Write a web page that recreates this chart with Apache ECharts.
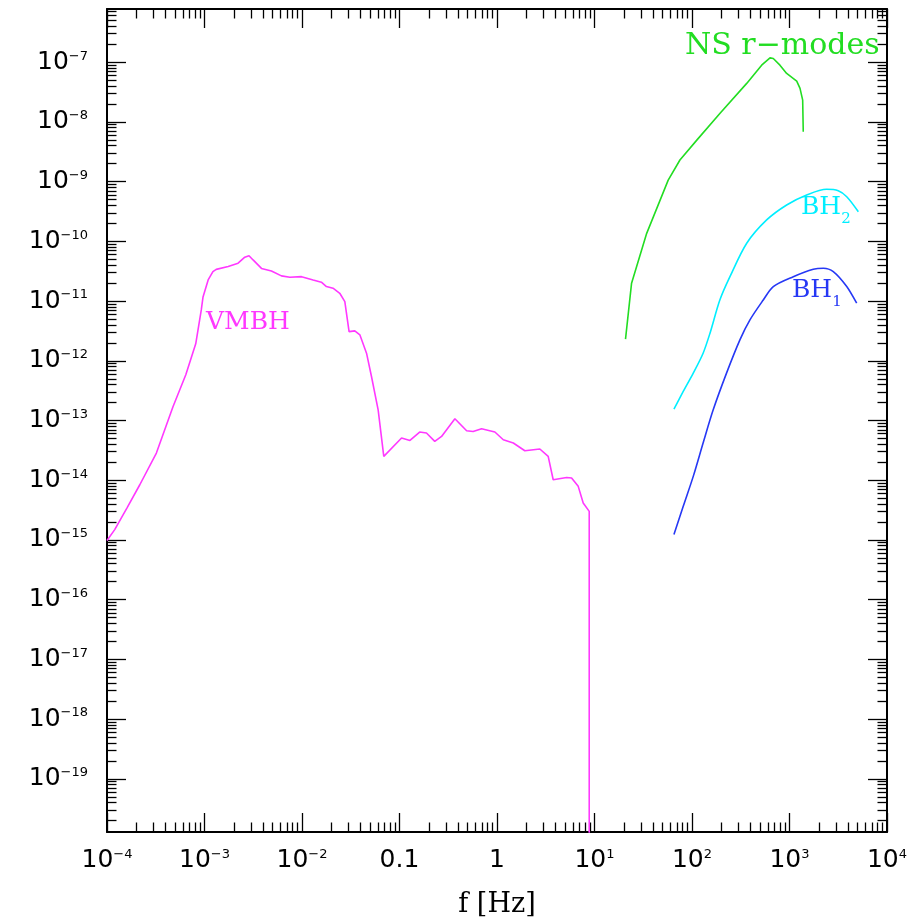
<!DOCTYPE html>
<html><head><meta charset="utf-8">
<script src="https://cdn.jsdelivr.net/npm/echarts@6/dist/echarts.min.js"></script>
<style>html,body{margin:0;padding:0;background:#fff}#c{width:920px;height:918px}</style>
</head><body><div id="c"></div><script>
// ---- data ----
const vmbhF = [1.0e-4,1.20e-4,1.61e-4,2.17e-4,3.21e-4,4.75e-4,6.43e-4,8.13e-4,9.27e-4,9.66e-4,1.09e-3,1.22e-3,1.32e-3,1.75e-3,2.21e-3,2.59e-3,2.86e-3,3.15e-3,3.84e-3,4.86e-3,6.15e-3,7.50e-3,9.89e-3,1.30e-2,1.58e-2,1.78e-2,2.08e-2,2.44e-2,2.75e-2,3.04e-2,3.48e-2,3.92e-2,4.59e-2,5.16e-2,6.04e-2,6.90e-2,0.105,0.128,0.161,0.189,0.230,0.270,0.370,0.488,0.569,0.695,0.951,1.16,1.47,1.93,2.75,3.35,3.77,5.18,5.82,6.81,7.66,8.83,8.83];
const vmbhH = [9.8e-16,1.49e-15,3.48e-15,8.4e-15,2.85e-14,1.70e-13,5.82e-13,1.92e-12,7.11e-12,1.17e-11,2.26e-11,3.11e-11,3.39e-11,3.80e-11,4.30e-11,5.42e-11,5.75e-11,4.88e-11,3.52e-11,3.19e-11,2.64e-11,2.51e-11,2.56e-11,2.26e-11,2.07e-11,1.75e-11,1.64e-11,1.35e-11,9.8e-12,3.08e-12,3.17e-12,2.72e-12,1.34e-12,5.46e-13,1.51e-13,2.51e-14,5.08e-14,4.63e-14,6.41e-14,6.17e-14,4.47e-14,5.41e-14,1.07e-13,6.73e-14,6.56e-14,7.28e-14,6.41e-14,4.76e-14,4.20e-14,3.12e-14,3.33e-14,2.51e-14,1.02e-14,1.11e-14,1.09e-14,7.89e-15,4.16e-15,3.01e-15,1e-22];

const nsF = [20.8,24.0,34.3,57.0,75.2,112,194,364,518,631,682,798,935,1186,1282,1365,1384];
const nsH = [2.30e-12,1.99e-11,1.36e-10,1.06e-9,2.30e-9,4.95e-9,1.39e-8,4.41e-8,8.91e-8,1.18e-7,1.15e-7,8.91e-8,6.47e-8,4.81e-8,3.63e-8,2.31e-8,6.82e-9];

const bh2F = [65.3,81.3,103,130,153,193,245,364,583,935,1500,2404,3162,3864,5082];
const bh2H = [1.55e-13,3.06e-13,6.21e-13,1.34e-12,2.90e-12,1.04e-11,2.56e-11,9.29e-11,2.28e-10,4.06e-10,5.97e-10,7.43e-10,7.03e-10,5.58e-10,3.13e-10];

const bh1F = [65.3,81.3,103,130,165,226,310,393,538,682,1094,1754,2223,2812,3864,4887];
const bh1H = [1.23e-15,3.65e-15,1.16e-14,4.20e-14,1.51e-13,6.21e-13,2.24e-12,4.84e-12,1.04e-11,1.75e-11,2.56e-11,3.41e-11,3.55e-11,3.11e-11,1.75e-11,9.20e-12];

// ---- ticks ----
const xTickValues = [1e-4,1e-3,1e-2,0.1,1,10,100,1000,10000];
const xTickLabels = ['10^−4','10^−3','10^−2','0.1','1','10^1','10^2','10^3','10^4'];
const yTickValues = [1e-7,1e-8,1e-9,1e-10,1e-11,1e-12,1e-13,1e-14,1e-15,1e-16,1e-17,1e-18,1e-19];
const yTickLabels = ['10^−7','10^−8','10^−9','10^−10','10^−11','10^−12','10^−13','10^−14','10^−15','10^−16','10^−17','10^−18','10^−19'];

const xMin = 1e-4, xMax = 1e4;
const yMin = Math.pow(10, -19.89), yMax = Math.pow(10, -6.11);

function minorValues(d0, d1, lo, hi) {
  const out = [];
  for (let d = d0; d <= d1; d++) for (let k = 2; k <= 9; k++) {
    const v = k * Math.pow(10, d);
    if (v > lo && v < hi) out.push(v);
  }
  return out;
}
const xMinor = minorValues(-4, 3, xMin, xMax);
const yMinor = minorValues(-20, -7, yMin, yMax);

function makeFormatter(vals, labels) {
  return function (v) {
    const lv = Math.log10(v);
    let idx = -1;
    for (let i = 0; i < vals.length; i++) if (Math.abs(Math.log10(vals[i]) - lv) < 1e-6) idx = i;
    if (idx < 0) return '';
    const s = labels[idx];
    const p = s.indexOf('^');
    return p < 0 ? s : s.slice(0, p) + '{sup|' + s.slice(p + 1) + '}';
  };
}

const C_MAG = '#ff38ff', C_GRN = '#22dd22', C_CYN = '#00eeff', C_BLU = '#2638f5';
const tickFont = 'DejaVu Sans';
const serif = 'DejaVu Serif';
const labelRich = { sup: { fontSize: 13, lineHeight: 16, verticalAlign: 'top', fontFamily: tickFont, color: '#000' } };

function axisCommon() {
  return {
    type: 'log', logBase: 10,
    splitLine: { show: false }, minorTick: { show: false }, minorSplitLine: { show: false }
  };
}
function mkX(pos, ticks, len, withLabel, withLine) {
  const a = Object.assign(axisCommon(), {
    min: xMin, max: xMax, position: pos,
    axisLine: { show: withLine, onZero: false, lineStyle: { color: '#000', width: 2 } },
    axisTick: { show: true, inside: true, length: len, customValues: ticks, lineStyle: { color: '#000', width: 1.3 } },
    axisLabel: withLabel ? {
      show: true, customValues: xTickValues, margin: 16, formatter: makeFormatter(xTickValues, xTickLabels),
      fontFamily: tickFont, fontSize: 25, lineHeight: 25, color: '#000', rich: labelRich, hideOverlap: false,
      showMinLabel: true, showMaxLabel: true
    } : { show: false }
  });
  if (withLabel) {
    a.name = 'f [Hz]'; a.nameLocation = 'middle'; a.nameGap = 59;
    a.nameTextStyle = { fontFamily: serif, fontSize: 27, color: '#000' };
  }
  return a;
}
function mkY(pos, ticks, len, withLabel, withLine) {
  return Object.assign(axisCommon(), {
    min: yMin, max: yMax, position: pos,
    axisLine: { show: withLine, onZero: false, lineStyle: { color: '#000', width: 2 } },
    axisTick: { show: true, inside: true, length: len, customValues: ticks, lineStyle: { color: '#000', width: 1.3 } },
    axisLabel: withLabel ? {
      show: true, customValues: yTickValues, margin: 19, formatter: makeFormatter(yTickValues, yTickLabels),
      fontFamily: tickFont, fontSize: 25, lineHeight: 25, color: '#000', rich: labelRich, hideOverlap: false
    } : { show: false }
  });
}

function pairs(xs, ys) { return xs.map((x, i) => [x, ys[i]]); }
function lineSeries(name, xs, ys, color, smooth) {
  return {
    name: name, type: 'line', xAxisIndex: 0, yAxisIndex: 0, data: pairs(xs, ys),
    symbol: 'none', showSymbol: false, smooth: smooth, clip: true,
    lineStyle: { color: color, width: 1.6 }, itemStyle: { color: color }, silent: true
  };
}

const chart = echarts.init(document.getElementById('c'), null, { renderer: 'canvas' });
chart.setOption({
  animation: false,
  backgroundColor: '#fff',
  grid: { left: 107, right: 33, top: 9, bottom: 86, containLabel: false, outerBoundsMode: 'none' },
  xAxis: [
    mkX('bottom', xTickValues, 19, true, true),
    mkX('bottom', xMinor, 9.5, false, false),
    mkX('top', xTickValues, 19, false, true),
    mkX('top', xMinor, 9.5, false, false)
  ],
  yAxis: [
    mkY('left', yTickValues, 19, true, true),
    mkY('left', yMinor, 9.5, false, false),
    mkY('right', yTickValues, 19, false, true),
    mkY('right', yMinor, 9.5, false, false)
  ],
  series: [
    lineSeries('VMBH', vmbhF, vmbhH, C_MAG, false),
    lineSeries('NS r-modes', nsF, nsH, C_GRN, false),
    lineSeries('BH2', bh2F, bh2H, C_CYN, 0.3),
    lineSeries('BH1', bh1F, bh1H, C_BLU, 0.3)
  ],
  graphic: [
    { type: 'text', x: 206, y: 322, style: { text: 'VMBH', fill: C_MAG, fontFamily: serif, fontSize: 25, align: 'left', verticalAlign: 'middle' } },
    { type: 'text', x: 685, y: 46, style: { text: 'NS r−modes', fill: C_GRN, fontFamily: serif, fontSize: 30, align: 'left', verticalAlign: 'middle' } },
    { type: 'text', x: 801, y: 207, style: { text: 'BH{s|2}', fill: C_CYN, fontFamily: serif, fontSize: 25, lineHeight: 40, align: 'left', verticalAlign: 'middle',
        rich: { s: { fontSize: 15, lineHeight: 15, verticalAlign: 'bottom', fontFamily: serif, fill: C_CYN } } } },
    { type: 'text', x: 792, y: 290, style: { text: 'BH{s|1}', fill: C_BLU, fontFamily: serif, fontSize: 25, lineHeight: 40, align: 'left', verticalAlign: 'middle',
        rich: { s: { fontSize: 15, lineHeight: 15, verticalAlign: 'bottom', fontFamily: serif, fill: C_BLU } } } }
  ]
});
</script></body></html>
